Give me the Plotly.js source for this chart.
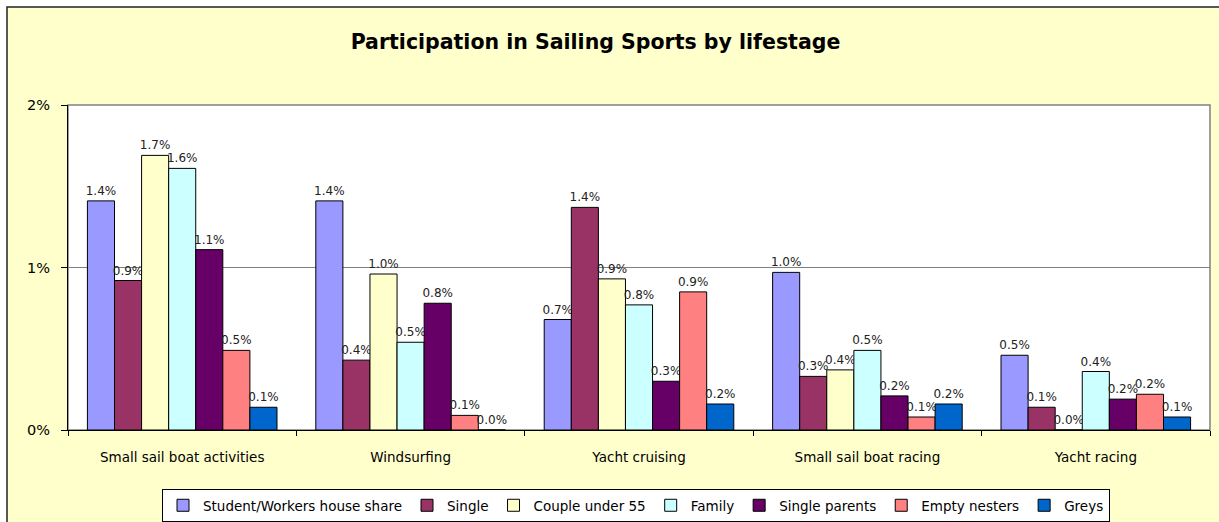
<!DOCTYPE html>
<html>
<head>
<meta charset="utf-8">
<script src="https://cdn.plot.ly/plotly-3.0.1.min.js"></script>
<style>html,body{margin:0;padding:0;background:#fff;}#chart{width:1219px;height:522px;}</style>
</head>
<body>
<div id="chart"></div>
<script>
var categories = ['Small sail boat activities', 'Windsurfing', 'Yacht cruising', 'Small sail boat racing', 'Yacht racing'];
var seriesNames = ['Student/Workers house share', 'Single', 'Couple under 55', 'Family', 'Single parents', 'Empty nesters', 'Greys'];
var student = [0.0141, 0.0141, 0.0068, 0.0097, 0.0046];
var single = [0.0092, 0.0043, 0.0137, 0.0033, 0.0014];
var couple = [0.0169, 0.0096, 0.0093, 0.0037, 0.0000];
var family = [0.0161, 0.0054, 0.0077, 0.0049, 0.0036];
var singleParents = [0.0111, 0.0078, 0.0030, 0.0021, 0.0019];
var emptyNesters = [0.0049, 0.0009, 0.0085, 0.0008, 0.0022];
var greys = [0.0014, 0.0000, 0.0016, 0.0016, 0.0008];
var yTicks = [0, 0.01, 0.02];
var colors = ['#9999FF', '#993366', '#FFFFCC', '#CCFFFF', '#660066', '#FF8080', '#0066CC'];

var seriesValues = [student, single, couple, family, singleParents, emptyNesters, greys];
var FONT = 'DejaVu Sans, Verdana, sans-serif';

var traces = seriesValues.map(function (vals, i) {
  return {
    type: 'bar',
    name: seriesNames[i],
    x: categories,
    y: vals,
    marker: {color: colors[i], line: {color: '#000000', width: 1}},
    texttemplate: '%{y:.1%}',
    textposition: 'outside',
    constraintext: 'none',
    cliponaxis: false,
    textfont: {family: FONT, size: 12, color: '#222222'},
    hoverinfo: 'skip'
  };
});

var L = 68, R = 1210, T = 105, B = 430, W = 1219, H = 522;
function px(x) { return (x - L) / (R - L); }
function py(y) { return (B - y) / (B - T); }

var layout = {
  width: W, height: H,
  margin: {l: L, r: W - R, t: T, b: H - B, pad: 0},
  paper_bgcolor: '#FFFFFF',
  plot_bgcolor: 'rgba(0,0,0,0)',
  barmode: 'group',
  bargap: 0.17,
  bargroupgap: 0,
  showlegend: true,
  title: {
    text: '<b>Participation in Sailing Sports by lifestage</b>',
    font: {family: FONT, size: 20.5, color: '#000000'},
    x: 0.4885, xanchor: 'center', y: 1 - 42 / H, yanchor: 'middle'
  },
  xaxis: {
    type: 'category',
    tickson: 'boundaries',
    ticks: 'outside', ticklen: 5, tickcolor: '#000000', tickwidth: 1,
    showline: true, linecolor: '#000000', linewidth: 1,
    showgrid: false, zeroline: false,
    automargin: false,
    ticklabelstandoff: 15,
    tickfont: {family: FONT, size: 13.5, color: '#000000'}
  },
  yaxis: {
    range: [0, 0.02],
    tickvals: yTicks,
    tickformat: '.0%',
    ticks: 'outside', ticklen: 6, tickcolor: '#000000', tickwidth: 1,
    showline: true, linecolor: '#000000', linewidth: 1,
    showgrid: true, gridcolor: '#808080', gridwidth: 1,
    zeroline: false,
    automargin: false,
    ticklabelstandoff: 8,
    tickfont: {family: FONT, size: 14.5, color: '#000000'}
  },
  legend: {
    orientation: 'h',
    xref: 'paper',
    x: px(636), xanchor: 'center',
    yref: 'container',
    y: 1 - 489 / H, yanchor: 'top',
    bgcolor: '#FFFFFF', bordercolor: '#000000', borderwidth: 1,
    font: {family: FONT, size: 13.5, color: '#000000'},
    itemwidth: 30,
    traceorder: 'normal'
  },
  shapes: [
    {type: 'rect', xref: 'paper', yref: 'paper', layer: 'below',
     x0: px(7), x1: px(1240), y0: py(560), y1: py(7),
     fillcolor: '#FFFFCC', line: {color: '#222222', width: 1.5}},
    {type: 'rect', xref: 'paper', yref: 'paper', layer: 'below',
     x0: 0, x1: 1, y0: 0, y1: 1,
     fillcolor: '#FFFFFF', line: {color: '#808080', width: 1.5}}
  ]
};

Plotly.newPlot('chart', traces, layout, {displayModeBar: false, staticPlot: true});
</script>
</body>
</html>
